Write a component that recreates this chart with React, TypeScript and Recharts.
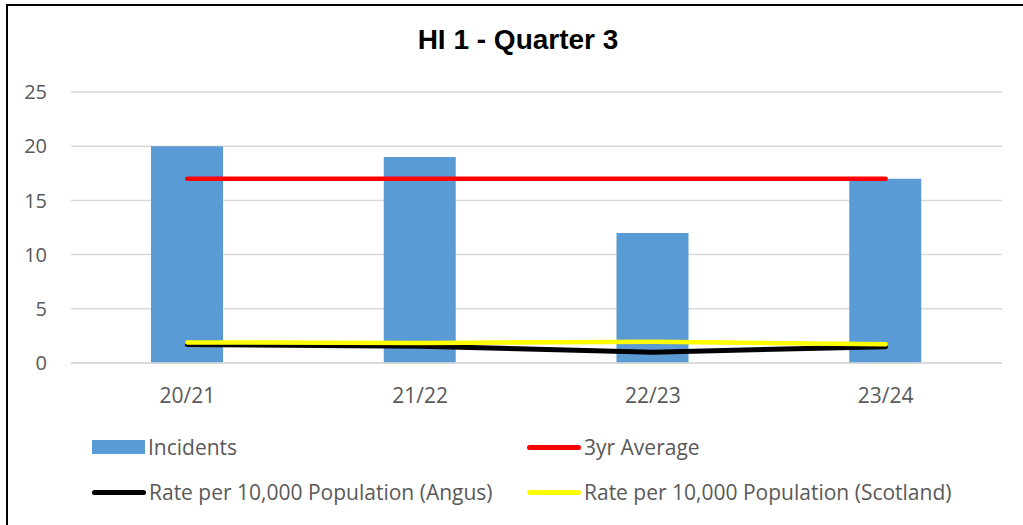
import { ComposedChart, Bar, Line, XAxis, YAxis, CartesianGrid, Legend } from 'recharts'

const years = ['20/21', '21/22', '22/23', '23/24']
const incidents = [20, 19, 12, 17]
const threeYearAvg = [17, 17, 17, 17]
const rateAngus = [1.7, 1.55, 1.0, 1.5]
const rateScotland = [1.9, 1.85, 1.95, 1.72]
const yTicks = [0, 5, 10, 15, 20, 25]
const seriesNames = [
  'Incidents',
  '3yr Average',
  'Rate per 10,000 Population (Angus)',
  'Rate per 10,000 Population (Scotland)',
]

const data = years.map((year, i) => ({
  year,
  [seriesNames[0]]: incidents[i],
  [seriesNames[1]]: threeYearAvg[i],
  [seriesNames[2]]: rateAngus[i],
  [seriesNames[3]]: rateScotland[i],
}))

const FONT = '"Open Sans", "Noto Sans", sans-serif'
const TEXT = '#595959'

function LegendGrid({ payload }: any) {
  const items = [...(payload || [])].sort(
    (a: any, b: any) => seriesNames.indexOf(a.value) - seriesNames.indexOf(b.value)
  )
  return (
    <div style={{ position: 'relative', width: 1023, height: 90, fontFamily: FONT, fontSize: 21, color: TEXT }}>
      {items.map((p: any, i: number) => {
        const col = i % 2
        const row = Math.floor(i / 2)
        const isBar = p.type === 'rect'
        return (
          <div
            key={p.value}
            style={{
              position: 'absolute',
              left: col === 0 ? 92 : 527,
              top: row * 45,
              height: 34,
              display: 'flex',
              alignItems: 'center',
              whiteSpace: 'nowrap',
            }}
          >
            {isBar ? (
              <span style={{ display: 'inline-block', width: 53, height: 14, background: p.color }} />
            ) : (
              <span style={{ display: 'inline-block', width: 54, height: 5, borderRadius: 3, background: p.color }} />
            )}
            <span style={{ marginLeft: 3 }}>{p.value}</span>
          </div>
        )
      })}
    </div>
  )
}

export default function App() {
  return (
    <div style={{ position: 'absolute', left: 0, top: 0, width: 1023, height: 525, background: '#fff', overflow: 'hidden' }}>
      {/* chart area frame: only top and left edges show in the crop */}
      <div style={{ position: 'absolute', left: 6, top: 4, width: 1030, height: 530, borderTop: '2px solid #000', borderLeft: '2px solid #000' }} />
      <div
        style={{
          position: 'absolute', left: 0, width: 1036, top: 24, textAlign: 'center',
          fontFamily: '"Liberation Sans", Arial, sans-serif', fontWeight: 'bold', fontSize: 28, color: '#000',
        }}
      >
        HI 1 - Quarter 3
      </div>
      <ComposedChart width={1023} height={525} data={data} margin={{ top: 92, right: 21, left: 0, bottom: 102 }}>
        <CartesianGrid vertical={false} stroke="#D9D9D9" strokeWidth={1.5} />
        <XAxis
          dataKey="year"
          axisLine={{ stroke: '#D9D9D9', strokeWidth: 1.5 }}
          tickLine={false}
          tickSize={0}
          tickMargin={25}
          height={60}
          tick={{ fill: TEXT, fontSize: 21, fontFamily: FONT }}
        />
        <YAxis
          domain={[0, 25]}
          ticks={yTicks}
          axisLine={false}
          tickLine={false}
          tickSize={0}
          tickMargin={24}
          width={71}
          tick={{ fill: TEXT, fontSize: 20, fontFamily: FONT }}
        />
        <Legend
          layout="vertical"
          align="center"
          verticalAlign="middle"
          wrapperStyle={{ position: 'absolute', left: 0, top: 430, width: 1023 }}
          content={<LegendGrid />}
        />
        <Bar dataKey={seriesNames[0]} fill="#5B9BD5" barSize={72} isAnimationActive={false} legendType="rect" />
        <Line dataKey={seriesNames[1]} stroke="#FF0000" strokeWidth={4.5} strokeLinecap="round" dot={false} isAnimationActive={false} />
        <Line dataKey={seriesNames[2]} stroke="#000000" strokeWidth={5} strokeLinecap="round" dot={false} isAnimationActive={false} />
        <Line dataKey={seriesNames[3]} stroke="#FFFF00" strokeWidth={4.5} strokeLinecap="round" dot={false} isAnimationActive={false} />
      </ComposedChart>
    </div>
  )
}
